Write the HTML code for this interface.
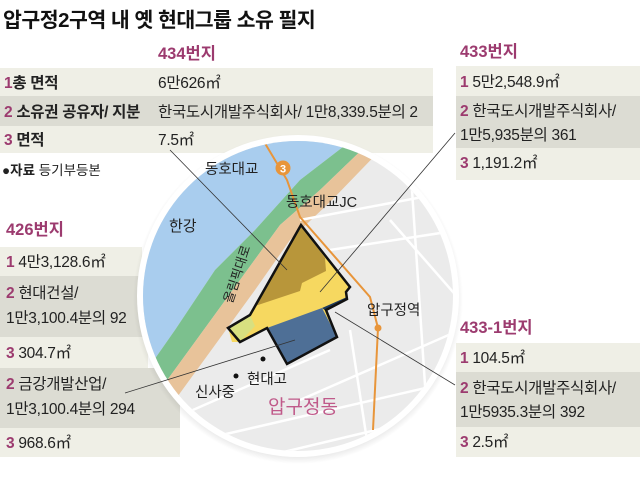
<!DOCTYPE html>
<html><head><meta charset="utf-8"><style>
html,body{margin:0;padding:0;background:#fff;}
svg{display:block;font-family:"Liberation Sans","Noto Sans CJK KR",sans-serif;}
.t{font-size:15.5px;fill:#222;letter-spacing:-0.3px;}
.n{font-weight:bold;fill:#9c3b6f;}
.h{font-size:16.5px;font-weight:bold;fill:#9c3b6f;}
</style></head><body>
<svg width="640" height="480" viewBox="0 0 640 480" xmlns="http://www.w3.org/2000/svg">
<defs>
<clipPath id="c"><circle cx="298" cy="296" r="155"/></clipPath>
<radialGradient id="sh"><stop offset="0.9" stop-color="#000" stop-opacity="0.18"/><stop offset="1" stop-color="#000" stop-opacity="0"/></radialGradient>
</defs>
<rect width="640" height="480" fill="#fff"/>
<text x="3" y="27" font-size="20.5" font-weight="bold" fill="#111" letter-spacing="-0.5">압구정2구역 내 옛 현대그룹 소유 필지</text>
<text x="158" y="59" class="h">434번지</text>
<rect x="0" y="68" width="433" height="28" fill="#efefe6"/>
<rect x="0" y="96" width="433" height="30" fill="#dcdcd3"/>
<rect x="0" y="126" width="433" height="27" fill="#efefe6"/>
<text x="4" y="88" class="t" font-weight="bold"><tspan class="n">1</tspan>총 면적</text>
<text x="158" y="88" class="t">6만626㎡</text>
<text x="4" y="117" class="t" font-weight="bold"><tspan class="n">2</tspan> 소유권 공유자/ 지분</text>
<text x="158" y="117" class="t">한국도시개발주식회사/ 1만8,339.5분의 2</text>
<text x="4" y="145" class="t" font-weight="bold"><tspan class="n">3</tspan> 면적</text>
<text x="158" y="145" class="t">7.5㎡</text>
<text x="2" y="175" font-size="13.5" fill="#222"><tspan font-weight="bold">●자료</tspan> 등기부등본</text>

<text x="460" y="57" class="h">433번지</text>
<rect x="456" y="66" width="184" height="30" fill="#efefe6"/>
<rect x="456" y="96" width="184" height="52" fill="#dcdcd3"/>
<rect x="456" y="148" width="184" height="32" fill="#efefe6"/>
<text x="460" y="87" class="t"><tspan class="n">1</tspan> 5만2,548.9㎡</text>
<text x="460" y="116" class="t"><tspan class="n">2</tspan> 한국도시개발주식회사/</text>
<text x="460" y="140" class="t">1만5,935분의 361</text>
<text x="460" y="168" class="t"><tspan class="n">3</tspan> 1,191.2㎡</text>

<text x="460" y="333" class="h">433-1번지</text>
<rect x="456" y="343" width="184" height="29" fill="#efefe6"/>
<rect x="456" y="372" width="184" height="55" fill="#dcdcd3"/>
<rect x="456" y="427" width="184" height="30" fill="#efefe6"/>
<text x="460" y="363" class="t"><tspan class="n">1</tspan> 104.5㎡</text>
<text x="460" y="393" class="t"><tspan class="n">2</tspan> 한국도시개발주식회사/</text>
<text x="460" y="417" class="t">1만5935.3분의 392</text>
<text x="460" y="447" class="t"><tspan class="n">3</tspan> 2.5㎡</text>

<text x="6" y="235" class="h">426번지</text>
<rect x="0" y="247" width="142" height="29" fill="#efefe6"/>
<rect x="0" y="276" width="145" height="61" fill="#dcdcd3"/>
<rect x="0" y="337" width="148" height="31" fill="#efefe6"/>
<rect x="0" y="368" width="180" height="60" fill="#dcdcd3"/>
<rect x="0" y="428" width="180" height="29" fill="#efefe6"/>
<text x="6" y="267" class="t"><tspan class="n">1</tspan> 4만3,128.6㎡</text>
<text x="6" y="298" class="t"><tspan class="n">2</tspan> 현대건설/</text>
<text x="6" y="323" class="t">1만3,100.4분의 92</text>
<text x="6" y="358" class="t"><tspan class="n">3</tspan> 304.7㎡</text>
<text x="6" y="389" class="t"><tspan class="n">2</tspan> 금강개발산업/</text>
<text x="6" y="414" class="t">1만3,100.4분의 294</text>
<text x="6" y="448" class="t"><tspan class="n">3</tspan> 968.6㎡</text>

<circle cx="298" cy="299" r="165" fill="url(#sh)"/>
<circle cx="298" cy="296" r="161" fill="#fff"/>
<g clip-path="url(#c)">
<rect x="140" y="140" width="320" height="320" fill="#ebebeb"/>
<path d="M140 140 L352 140 L300 180 L255 230 L215 270 L175 330 L140 380 Z" fill="#a9cdee"/>
<path d="M352 140 L372 140 L320 190 L280 225 L240 280 L200 335 L160 390 L140 400 L140 380 L175 330 L215 270 L255 230 L300 180 Z" fill="#7cc08e"/>
<path d="M372 140 L390 140 L332 200 L290 240 L255 290 L215 345 L175 400 L150 410 L160 390 L200 335 L240 280 L280 225 L320 190 Z" fill="#e8c39a"/>
<g stroke="#fff" stroke-width="2.5" fill="none">
<path d="M300 220 L460 190"/><path d="M330 250 L460 230"/><path d="M300 400 L460 330"/>
<path d="M200 440 L460 380"/><path d="M170 420 L330 350"/><path d="M250 460 L460 410"/>
<path d="M410 160 L430 460"/><path d="M350 330 L370 460"/><path d="M390 220 L460 300"/>
</g>
<path d="M263 140 L287 180 L300 217 L370 297 L378 328 L373 430" stroke="#e8953a" stroke-width="2" fill="none"/>
<path d="M232 342 L228 328 L250 315 L301 225 L350 287 L346 292 L347 299 L326 310 L337 337 L287 364 L267 328 L240 342 Z" fill="#f6d860"/>
<path d="M250 315 L301 225 L325 258 L326 271 L302 283 L300 291 L255 306 Z" fill="#b8963a"/>
<path d="M228 328 L250 315 L255 326 L240 342 Z" fill="#d8e080"/>
<path d="M267 328 L322 308 L337 337 L287 364 Z" fill="#4e6f96"/>
<path d="M322 308 L347 297 L347 300 L326 311 Z" fill="#1f3a5c"/>
<path d="M240 342 L228 328 L250 315 L301 225 L350 287 L346 292 L347 299 L326 310 L337 337 L287 364 L267 328 Z" fill="none" stroke="#111" stroke-width="2.5"/>
<circle cx="378" cy="328" r="3.5" fill="#e8953a"/>
<text x="169" y="231" font-size="15" fill="#222">한강</text>
<text transform="translate(232,304) rotate(-72)" font-size="13" fill="#222">올림픽대로</text>
<text x="286" y="207" font-size="14.5" fill="#222">동호대교JC</text>
<text x="367" y="315" font-size="14.5" fill="#222">압구정역</text>
<circle cx="263" cy="359" r="2.5" fill="#111"/>
<text x="247" y="384" font-size="14.5" fill="#222">현대고</text>
<circle cx="236" cy="376" r="2.5" fill="#111"/>
<text x="195" y="397" font-size="14.5" fill="#222">신사중</text>
<text x="268" y="413" font-size="19" fill="#c05a8a">압구정동</text>
</g>
<text x="205" y="174" font-size="14.5" fill="#222">동호대교</text>
<circle cx="283" cy="168" r="7.5" fill="#e8953a"/>
<text x="283" y="172.5" font-size="11" font-weight="bold" fill="#fff" text-anchor="middle">3</text>
<g stroke="#333" stroke-width="0.8">
<line x1="170" y1="150" x2="287" y2="270"/>
<line x1="455" y1="133" x2="320" y2="292"/>
<line x1="455" y1="385" x2="335" y2="312"/>
<line x1="125" y1="393" x2="295" y2="340"/>
</g>
</svg>
</body></html>
